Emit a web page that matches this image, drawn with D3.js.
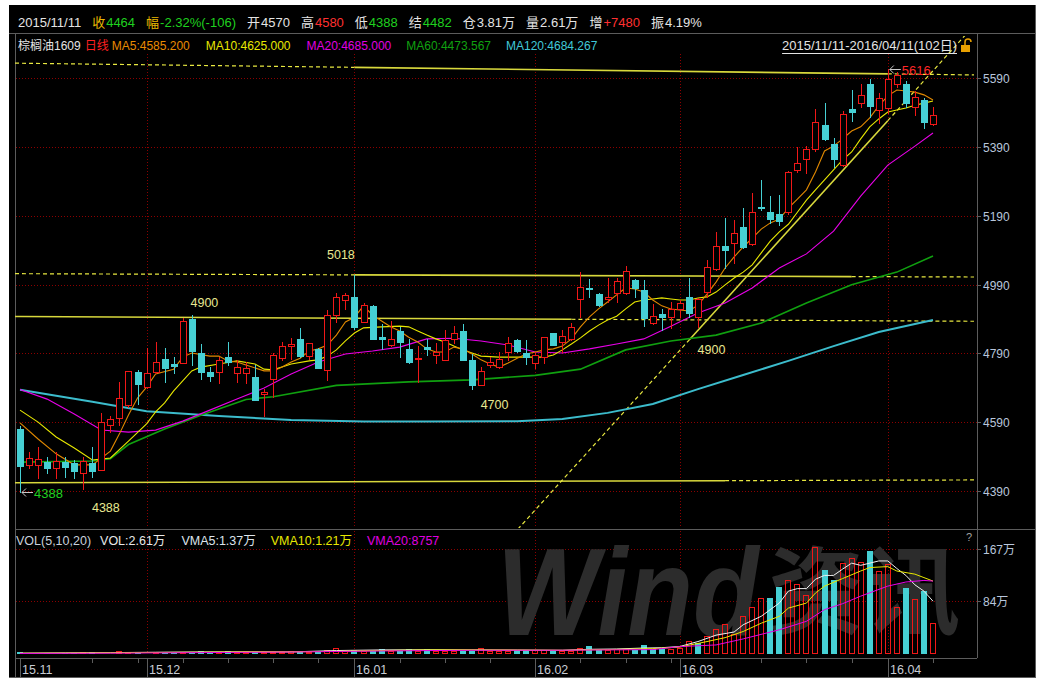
<!DOCTYPE html>
<html>
<head>
<meta charset="utf-8">
<script src="https://cdn.jsdelivr.net/npm/d3@7"></script>
<style>
body { margin: 0; background: #fff; }
svg { display: block; }
text { font-family: "Liberation Sans", "Noto Sans CJK SC", sans-serif; font-size: 12px; }
</style>
</head>
<body>
<svg id="chart" width="1044" height="681"></svg>
<script>
// ---- data ----
const openP = [4570,4465,4466,4475,4456,4475,4470,4441,4470,4451, 4582,4603,4640,4737,4691,4735,4774,4758,4761,4889,
  4792,4737,4735,4780,4732,4732,4720,4671,4714,4776, 4812,4832,4782,4802,4742,4901,4945,4953,4882,4927,
  4838,4814,4856,4804,4773,4809,4784,4771,4832,4855, 4771,4698,4756,4751,4795,4829,4792,4761,4778,4848,
  4822,4832,4948,4981,4962,4947,4964,4966,5003,4974, 4877,4903,4896,4918,4953,4897,4969,5034,5103,5110,
  5156,5108,5216,5201,5195,5200,5322,5354,5383,5453, 5398,5337,5499,5516,5572,5497,5502,5573,5573,5507,
  5526,5455];
const highP = [4580,4504,4517,4490,4504,4490,4480,4490,4517,4616, 4609,4708,4740,4742,4805,4822,4806,4780,4892,4901,
  4816,4751,4780,4822,4771,4764,4756,4686,4790,4822, 4834,4863,4821,4805,4916,4964,4966,5018,4937,4930,
  4875,4884,4866,4831,4811,4833,4821,4858,4869,4874, 4787,4751,4780,4795,4838,4831,4829,4795,4838,4848,
  4858,4877,5027,5005,4964,5008,5008,5044,5005,5003, 4933,4918,4940,4945,5008,4950,5061,5142,5182,5177,
  5211,5255,5294,5247,5250,5320,5389,5392,5499,5518, 5415,5495,5555,5573,5586,5546,5616,5608,5582,5553,
  5531,5505];
const lowP = [4388,4458,4427,4441,4427,4432,4427,4395,4432,4451, 4562,4582,4635,4642,4688,4732,4706,4732,4761,4756,
  4715,4710,4703,4756,4708,4703,4654,4609,4664,4771, 4774,4779,4774,4748,4713,4882,4918,4860,4882,4831,
  4804,4811,4778,4761,4708,4785,4761,4771,4821,4771, 4685,4698,4751,4746,4771,4795,4759,4746,4761,4814,
  4795,4829,4897,4955,4927,4940,4940,4962,4953,4869, 4875,4858,4863,4897,4897,4867,4955,5032,5037,5052,
  5095,5105,5206,5170,5163,5195,5318,5313,5379,5410, 5330,5334,5466,5507,5478,5460,5487,5565,5507,5482,
  5444,5453];
const closeP = [4464,4487,4483,4458,4478,4461,4448,4478,4449,4590, 4599,4659,4740,4700,4732,4766,4748,4752,4884,4797,
  4737,4725,4771,4764,4751,4746,4654,4679,4785,4811, 4816,4781,4821,4748,4900,4953,4959,4866,4929,4833,
  4833,4832,4822,4766,4777,4804,4795,4829,4848,4771, 4698,4740,4766,4773,4819,4797,4778,4785,4838,4814,
  4840,4867,4982,4977,4930,4953,5001,5030,4979,4892, 4899,4896,4918,4935,4908,4948,5040,5103,5090,5141,
  5098,5200,5211,5179,5175,5318,5344,5383,5461,5412, 5355,5484,5490,5540,5510,5531,5587,5599,5518,5534,
  5463,5482];

// volume in 万 lots, and bar colour (1 red hollow, 0 cyan)
const volume = [2.6,0.9,1.1,0.8,1.2,0.9,1.0,2.5,2.5,2.0, 1.5,4.0,2.5,2.0,2.0,2.5,2.0,2.0,3.0,3.5,
  5.0,3.0,3.0,4.5,3.0,3.0,3.0,2.5,3.0,3.0, 4.0,2.5,3.0,3.0,7.0,10.0,5.0,6.0,4.0,5.0,
  8.5,5.0,5.0,8.5,5.0,8.5,5.0,5.0,4.0,5.5, 5.5,10.0,5.0,5.0,5.5,6.0,6.5,6.5,6.0,5.0,
  5.0,5.5,9.5,12,6.5,6.5,7.5,8.0,7.0,15, 8.0,8.0,8.0,9.0,21,18,28,39.6,47.6,31.6,
  59.9,74.4,89.4,89.4,107,117.7,110.8,93.1,169.6,133.8, 117.7,144.5,152,147,164,132,142.9,74.4,105.4,86.7,
  100,49.2];
const volUp = [0,1,1,0,1,0,0,1,0,1, 1,1,1,0,1,1,0,0,1,0, 0,0,1,0,1,1,0,1,1,1, 1,0,1,0,1,1,1,0,1,0,
  0,1,0,0,1,0,1,1,1,0, 0,1,1,1,1,0,0,1,1,0, 1,1,1,0,0,1,1,1,0,0, 0,0,1,1,1,0,1,1,1,1,
  1,1,1,0,0,1,1,1,1,0, 0,1,1,1,0,1,1,1,0,1, 0,1];

// moving averages as [day index, value]
const ma5 = [[0,4588],[2,4541],[4,4498],[6,4466],[8,4466],[10,4506],[11,4556],[12,4611],[13,4660],[14,4692],
  [15,4730],[17,4744],[18,4779],[19,4791],[21,4782],[22,4782],[23,4768],[24,4765],[25,4756],[27,4739],
  [28,4739],[29,4750],[30,4765],[31,4776],[32,4797],[33,4803],[34,4814],[35,4843],[36,4881],[37,4895],
  [38,4928],[39,4901],[40,4884],[41,4867],[42,4855],[43,4837],[44,4823],[45,4803],[46,4794],[47,4794],
  [48,4808],[49,4803],[50,4788],[51,4771],[52,4759],[53,4750],[54,4762],[55,4776],[56,4788],[57,4794],
  [58,4800],[59,4803],[60,4811],[61,4832],[62,4867],[63,4896],[64,4919],[65,4939],[66,4960],[67,4980],
  [68,4977],[69,4968],[70,4945],[71,4928],[72,4919],[73,4916],[74,4913],[75,4930],[76,4962],[77,4997],
  [78,5038],[79,5070],[80,5099],[81,5125],[82,5151],[83,5169],[84,5180],[85,5212],[86,5238],[87,5265],
  [88,5317],[89,5378],[90,5392],[91,5413],[92,5436],[93,5448],[94,5474],[95,5509],[96,5538],[97,5555],
  [98,5552],[99,5549],[100,5541],[101,5526]];
const ma10 = [[0,4625],[2,4590],[4,4547],[6,4515],[8,4480],[10,4486],[12,4535],[14,4585],[15,4620],[16,4646],
  [17,4681],[18,4710],[19,4739],[20,4750],[22,4759],[24,4768],[26,4759],[27,4744],[28,4742],[30,4759],
  [32,4768],[33,4771],[34,4782],[35,4800],[36,4826],[37,4849],[38,4864],[40,4867],[42,4869],[43,4867],
  [44,4855],[45,4843],[46,4832],[47,4823],[48,4811],[49,4800],[50,4791],[51,4782],[53,4779],[55,4779],
  [57,4779],[58,4779],[59,4785],[60,4800],[61,4817],[62,4835],[63,4855],[64,4872],[65,4887],[66,4898],
  [67,4919],[68,4939],[69,4945],[70,4948],[71,4951],[72,4948],[73,4945],[74,4945],[75,4951],[76,4954],
  [77,4968],[78,4989],[79,5009],[80,5026],[81,5047],[82,5082],[83,5116],[84,5143],[85,5165],[86,5200],
  [87,5235],[88,5265],[89,5294],[90,5323],[91,5352],[92,5375],[93,5413],[94,5448],[95,5471],[96,5491],
  [97,5497],[98,5503],[99,5511],[100,5517],[101,5523]];
const ma20 = [[0,4685],[3,4657],[6,4614],[9,4567],[12,4561],[15,4567],[18,4593],[21,4625],[24,4657],[27,4689],
  [30,4730],[33,4765],[36,4788],[39,4797],[42,4808],[45,4832],[48,4834],[51,4826],[54,4814],[57,4794],
  [60,4791],[63,4803],[66,4817],[69,4832],[72,4869],[75,4907],[78,4936],[81,4980],[84,5038],[87,5079],
  [90,5145],[93,5247],[96,5337],[99,5392],[101,5430]];
const ma60 = [[0,4474],[8,4477],[10,4484],[12,4525],[16,4570],[20,4610],[25,4656],[28,4664],[35,4697],[43,4707],
  [50,4713],[57,4726],[62,4744],[67,4800],[72,4826],[77,4843],[82,4878],[87,4936],[92,4989],[97,5026],[101,5073]];
const ma120 = [[0,4684],[8,4649],[14,4622],[22,4608],[30,4596],[38,4592],[45,4592],[55,4593],[60,4599],[65,4617],
  [70,4643],[75,4686],[80,4727],[85,4768],[90,4811],[95,4852],[101,4887]];

// volume moving averages, [day index, 万]
const vma5 = [[0,1.37],[5,1.8],[10,2.2],[15,2.8],[20,3.3],[25,3.5],[30,3.3],[35,5.5],[40,6.5],[45,6.8],[50,6.5],
  [55,6.2],[60,5.8],[63,7.5],[66,8],[69,9.5],[71,10],[73,12],[75,19.8],[77,30],[79,35],[80,46.5],[82,60],
  [83,70.6],[84,81],[85,100],[86,104],[87,104],[88,119],[89,125],[90,125],[91,135],[92,144.5],[93,141],
  [95,148],[96,148],[97,136],[98,125],[99,110],[100,100],[101,84]];
const vma10 = [[0,1.21],[5,1.5],[10,1.9],[15,2.4],[20,2.9],[25,3.4],[30,3.5],[35,4.2],[40,5.5],[45,6.5],[50,6.6],
  [55,6.3],[60,6.0],[65,7],[70,8.5],[73,11],[76,19.8],[78,26],[80,35.8],[82,49],[84,60],[85,73],[87,81],
  [88,97],[89,108],[91,120],[93,132],[94,137.5],[96,139],[97,132],[99,127],[100,121.5],[101,116]];
const vma20 = [[0,0.88],[10,1.3],[20,2.2],[30,3.2],[40,4.8],[50,6.0],[60,6.0],[70,7],[73,11.8],[77,14.4],
  [80,24],[84,38.5],[87,52],[89,70.6],[91,80],[93,92],[96,108],[98,114.5],[100,117],[101,116]];

// axis ticks
const priceTicks = [4390, 4590, 4790, 4990, 5190, 5390, 5590];
const volTicks = [84, 167];
const monthTicks = [["15.11", 0], ["15.12", 14], ["16.01", 37], ["16.02", 57], ["16.03", 73], ["16.04", 96]];
const weekTicks = [8, 13, 18, 23, 28, 33, 42, 47, 52, 62, 67, 72, 82, 87, 92, 101];

// user drawn lines: two anchors [day, price], left extension dashed or not
const drawnLines = [
  { a: [37, 5621], b: [96, 5602], leftDash: true },
  { a: [37, 5018], b: [92, 5013], leftDash: true },
  { a: [0, 4897], b: [61, 4889], leftDash: false },
  { a: [0, 4414], b: [78, 4420], leftDash: false },
  { a: [74, 4828], b: [96, 5466], leftDash: true }
];
// price labels of the drawn lines: text, day, price, pixel offset
const lineLabels = [["5018", 35.5, 5018, -16], ["4900", 20.4, 4900, -8], ["4700", 52.5, 4700, 25],
  ["4900", 76.5, 4900, 39], ["4388", 9.5, 4388, 20]];

const header1 = [["", "", "2015/11/11", "#e4e4e4"], ["收", "#e8b800", "4464", "#1fd01f"],
  ["幅", "#e8b800", "-2.32%(-106)", "#1fd01f"], ["开", "#e4e4e4", "4570", "#e4e4e4"],
  ["高", "#e4e4e4", "4580", "#ff3030"], ["低", "#e4e4e4", "4388", "#1fd01f"],
  ["结", "#e4e4e4", "4482", "#1fd01f"], ["仓", "#e4e4e4", "3.81万", "#e4e4e4"],
  ["量", "#e4e4e4", "2.61万", "#e4e4e4"], ["增", "#e4e4e4", "+7480", "#ff3030"],
  ["振", "#e4e4e4", "4.19%", "#e4e4e4"]];
const header2 = [["棕榈油1609", "#e4e4e4", 4], ["日线", "#ff2020", 3], ["MA5:4585.200", "#e88a00", 16],
  ["MA10:4625.000", "#e8e800", 16], ["MA20:4685.000", "#e000e0", 15], ["MA60:4473.567", "#10a010", 15],
  ["MA120:4684.267", "#40c8d8", 0]];
const volLegend = [["VOL(5,10,20)", "#c8d0dc", 9], ["VOL:2.61万", "#e8e8e8", 16], ["VMA5:1.37万", "#dde4ec", 15],
  ["VMA10:1.21万", "#e8e800", 15], ["VMA20:8757", "#e000e0", 0]];
const rangeText = "2015/11/11-2016/04/11(102日)";

// ---- drawing ----
const RED = "#f01818", CYAN = "#46d0d4", GRID = "#8c0000", GRAY = "#5c5c5c";
const svg = d3.select("#chart");

const x = d3.scaleLinear().domain([0, 101]).range([20, 933]);
const y = d3.scaleLinear().domain([4390, 5590]).range([491, 78]);
const yv = d3.scaleLinear().domain([0, 167]).range([654, 549]);
const px = i => Math.round(x(i));

svg.append("rect").attr("x", 9).attr("y", 5).attr("width", 1027).attr("height", 673).attr("fill", "#000");

svg.append("defs").append("clipPath").attr("id", "plot")
  .append("rect").attr("x", 15).attr("y", 36).attr("width", 962).attr("height", 492);

const frame = svg.append("g").attr("stroke", GRAY).attr("shape-rendering", "crispEdges");
[[9, 33.5, 1036, 33.5], [15, 529.5, 1036, 529.5], [15, 658.5, 977, 658.5], [9, 677.5, 1036, 677.5],
 [15.5, 34, 15.5, 678], [977.5, 34, 977.5, 658], [1035.5, 5, 1035.5, 678]].forEach(l => {
  frame.append("line").attr("x1", l[0]).attr("y1", l[1]).attr("x2", l[2]).attr("y2", l[3]);
});

// grid
const grid = svg.append("g").attr("stroke", GRID).attr("stroke-dasharray", "1,2").attr("shape-rendering", "crispEdges");
priceTicks.forEach(v => {
  grid.append("line").attr("x1", 16).attr("x2", 977).attr("y1", Math.round(y(v)) + 0.5).attr("y2", Math.round(y(v)) + 0.5);
});
volTicks.forEach(v => {
  grid.append("line").attr("x1", 16).attr("x2", 977).attr("y1", Math.round(yv(v)) + 0.5).attr("y2", Math.round(yv(v)) + 0.5);
});
monthTicks.slice(1).forEach(m => {
  const xx = px(m[1]) + 0.5;
  grid.append("line").attr("x1", xx).attr("x2", xx).attr("y1", 54).attr("y2", 528);
  grid.append("line").attr("x1", xx).attr("x2", xx).attr("y1", 531).attr("y2", 653);
});

// watermark
svg.append("text").attr("transform", "translate(497,635) scale(0.86,1)").attr("fill", "#2c2c2c")
  .style("font-size", "125px").style("font-weight", "bold").style("font-style", "italic").text("Wind");
svg.append("text").attr("x", 768).attr("y", 626).attr("fill", "#2c2c2c")
  .style("font-size", "96px").style("font-weight", "bold").style("font-family", "Noto Sans CJK SC").text("资讯");

// right axis
const axisG = svg.append("g");
priceTicks.forEach(v => {
  const yy = Math.round(y(v)) + 0.5;
  axisG.append("line").attr("x1", 977).attr("x2", 981).attr("y1", yy).attr("y2", yy).attr("stroke", GRAY);
  axisG.append("text").attr("x", 983).attr("y", yy + 4.5).attr("fill", "#b8c6dc").text(v);
});
volTicks.forEach(v => {
  const yy = Math.round(yv(v)) + 0.5;
  axisG.append("line").attr("x1", 977).attr("x2", 981).attr("y1", yy).attr("y2", yy).attr("stroke", GRAY);
  axisG.append("text").attr("x", 983).attr("y", yy + 4.5).attr("fill", "#b8c6dc").text(v + "万");
});
svg.append("text").attr("x", 966).attr("y", 541).attr("fill", "#a0a0a0").style("font-size", "11px").text("?");

// date axis
monthTicks.forEach(m => {
  const xx = px(m[1]) + 0.5;
  axisG.append("line").attr("x1", xx).attr("x2", xx).attr("y1", 659).attr("y2", 677).attr("stroke", GRAY);
  axisG.append("text").attr("x", xx + 1.5).attr("y", 674).attr("fill", "#c8ccd4").style("font-size", "12.5px").text(m[0]);
});
weekTicks.forEach(i => {
  const xx = px(i) + 0.5;
  axisG.append("line").attr("x1", xx).attr("x2", xx).attr("y1", 659).attr("y2", 663).attr("stroke", GRAY);
});

// volume bars
const vol = svg.append("g").attr("shape-rendering", "crispEdges");
volume.forEach((v, i) => {
  const cx = px(i), top = Math.round(yv(v)), base = Math.round(yv(0));
  const h = Math.max(1, base - top);
  if (volUp[i]) {
    vol.append("rect").attr("x", cx - 2.5).attr("y", base - h + 0.5).attr("width", 5).attr("height", Math.max(0, h - 1))
      .attr("fill", "none").attr("stroke", RED);
  } else {
    vol.append("rect").attr("x", cx - 3).attr("y", base - h).attr("width", 6).attr("height", h).attr("fill", CYAN);
  }
});

const vline = d3.line().x(d => x(d[0])).y(d => yv(d[1]));
[[vma5, "#f0f0f0"], [vma10, "#e8e800"], [vma20, "#e800e8"]].forEach(s => {
  svg.append("path").attr("d", vline(s[0])).attr("fill", "none").attr("stroke", s[1]).attr("stroke-width", 1);
});

// drawn lines
const plot = svg.append("g").attr("clip-path", "url(#plot)");
const xLeft = x.invert(15), xRight = x.invert(974);
drawnLines.forEach(l => {
  const slope = (l.b[1] - l.a[1]) / (l.b[0] - l.a[0]);
  const at = i => [i, l.a[1] + slope * (i - l.a[0])];
  const seg = (p, q, dashed) => plot.append("line")
    .attr("x1", x(p[0])).attr("y1", y(p[1])).attr("x2", x(q[0])).attr("y2", y(q[1]))
    .attr("stroke", dashed ? "#e8e840" : "#d8d83c").attr("stroke-width", dashed ? 1.2 : 1.6)
    .attr("stroke-dasharray", dashed ? "4,3" : null);
  seg(at(xLeft), l.a, l.leftDash);
  seg(l.a, l.b, false);
  seg(l.b, at(xRight), true);
});

// MA lines
const pline = d3.line().x(d => x(d[0])).y(d => y(d[1]));
[[ma120, "#3cbccc", 2], [ma60, "#10a010", 1.6], [ma20, "#e800e8", 1.1], [ma10, "#e8e800", 1.1], [ma5, "#e08800", 1.1]]
  .forEach(s => {
    plot.append("path").attr("d", pline(s[0])).attr("fill", "none").attr("stroke", s[1]).attr("stroke-width", s[2]);
  });

// candles
const cg = svg.append("g").attr("shape-rendering", "crispEdges");
openP.forEach((o, i) => {
  const c = closeP[i], cx = px(i);
  const up = c >= o;
  const col = up ? RED : CYAN;
  cg.append("line").attr("x1", cx + 0.5).attr("x2", cx + 0.5)
    .attr("y1", Math.round(y(highP[i]))).attr("y2", Math.round(y(lowP[i])) + 1).attr("stroke", col);
  const yT = Math.round(y(Math.max(o, c))), yB = Math.round(y(Math.min(o, c)));
  if (up) {
    cg.append("rect").attr("x", cx - 2.5).attr("y", yT + 0.5).attr("width", 6).attr("height", Math.max(1, yB - yT))
      .attr("fill", "#000").attr("stroke", RED);
  } else {
    cg.append("rect").attr("x", cx - 3).attr("y", yT).attr("width", 7).attr("height", Math.max(1, yB - yT + 1)).attr("fill", CYAN);
  }
});

// line labels
lineLabels.forEach(l => {
  svg.append("text").attr("x", x(l[1])).attr("y", y(l[2]) + l[3]).attr("text-anchor", "middle")
    .attr("fill", "#e8e890").style("font-size", "12.5px").text(l[0]);
});

// max / min markers
const iMax = d3.maxIndex(highP), iMin = d3.minIndex(lowP);
function marker(i, v, color) {
  const x0 = x(i) + 1, yy = Math.round(y(v)) + 0.5;
  svg.append("path").attr("d", `M${x0 + 12},${yy}H${x0 + 1}M${x0 + 5},${yy - 4}L${x0 + 1},${yy}L${x0 + 5},${yy + 4}`)
    .attr("fill", "none").attr("stroke", "#c8c8c8").attr("stroke-width", 1);
  svg.append("text").attr("x", x0 + 13).attr("y", yy + 5).attr("fill", color).style("font-size", "13px").text(v);
}
marker(iMax, highP[iMax], "#ff2828");
marker(iMin, lowP[iMin], "#20d020");

// header rows
let hx = 18;
header1.forEach(h => {
  if (h[0]) {
    const t = svg.append("text").attr("x", hx).attr("y", 27).attr("fill", h[1]).style("font-size", "13px").text(h[0]);
    hx += t.node().getComputedTextLength() + 1;
  }
  const t2 = svg.append("text").attr("x", hx).attr("y", 27).attr("fill", h[3]).style("font-size", "13px").text(h[2]);
  hx += t2.node().getComputedTextLength() + 11;
});
hx = 18;
header2.forEach(h => {
  const t = svg.append("text").attr("x", hx).attr("y", 50).attr("fill", h[1]).text(h[0]);
  hx += t.node().getComputedTextLength() + h[2];
});
const rt = svg.append("text").attr("x", 957).attr("y", 50).attr("text-anchor", "end").attr("fill", "#e4e4e4")
  .style("font-size", "13px").text(rangeText);
const rw = rt.node().getComputedTextLength();
svg.append("line").attr("x1", 957 - rw).attr("x2", 957).attr("y1", 53.5).attr("y2", 53.5).attr("stroke", "#e4e4e4");

// lock icon
const lock = svg.append("g").attr("transform", "translate(961,38)");
lock.append("path").attr("d", "M4,7V4a3,3 0 0 1 6,0").attr("fill", "none").attr("stroke", "#e8a000").attr("stroke-width", 1.5);
lock.append("rect").attr("x", 0).attr("y", 7).attr("width", 9).attr("height", 7).attr("fill", "#e8a000");

hx = 16;
volLegend.forEach(h => {
  const t = svg.append("text").attr("x", hx).attr("y", 545).attr("fill", h[1]).style("font-size", "12.5px").text(h[0]);
  hx += t.node().getComputedTextLength() + h[2];
});
</script>
</body>
</html>
